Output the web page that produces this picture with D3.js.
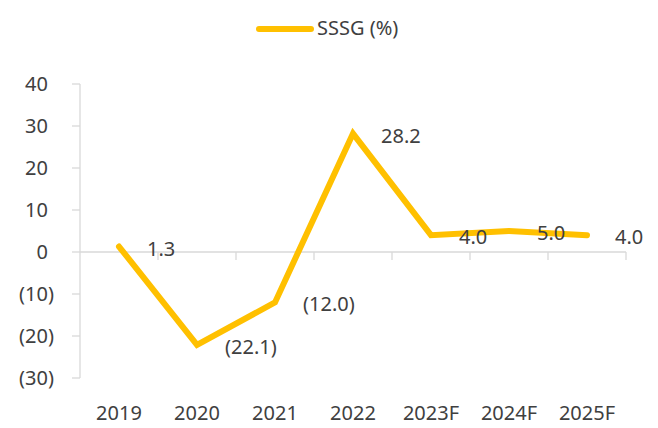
<!DOCTYPE html>
<html>
<head>
<meta charset="utf-8">
<script src="https://cdn.jsdelivr.net/npm/d3@7"></script>
<style>
  body { margin: 0; background: #fff; }
  text { font-family: "Noto Sans", sans-serif; fill: #404040; }
</style>
</head>
<body>
<svg id="chart" width="658" height="428"></svg>
<script>
// data
var years = ["2019", "2020", "2021", "2022", "2023F", "2024F", "2025F"];
var sssg = [1.3, -22.1, -12.0, 28.2, 4.0, 5.0, 4.0];
var yTicks = [-30, -20, -10, 0, 10, 20, 30, 40];
var seriesName = "SSSG (%)";

var svg = d3.select("#chart");
var lineColor = "#ffc000";
var axisColor = "#d9d9d9";
var fontSize = 20;

var x = d3.scaleBand().domain(years).range([80, 626]);
var y = d3.scaleLinear().domain([-30, 40]).range([378, 84]);

// accounting style numbers: negatives in brackets
function fmt(v, digits) {
	var s = Math.abs(v).toFixed(digits);
	return v < 0 ? "(" + s + ")" : s;
}

// y axis
var yAxis = svg.append("g");
yAxis.append("line")
	.attr("x1", 80).attr("x2", 80)
	.attr("y1", y(40)).attr("y2", y(-30))
	.attr("stroke", axisColor).attr("stroke-width", 1.3);
yAxis.selectAll(".ytick").data(yTicks).enter().append("line")
	.attr("x1", 72).attr("x2", 80)
	.attr("y1", function(d) { return y(d); })
	.attr("y2", function(d) { return y(d); })
	.attr("stroke", axisColor).attr("stroke-width", 1.3);
yAxis.selectAll(".ylab").data(yTicks).enter().append("text")
	.attr("x", function(d) { return d < 0 ? 54 : 48; })
	.attr("y", function(d) { return y(d); })
	.attr("dy", "0.35em")
	.attr("text-anchor", "end")
	.style("font-size", fontSize + "px")
	.text(function(d) { return fmt(d, 0); });

// x axis on the zero line, ticks at category edges
var xAxis = svg.append("g");
xAxis.append("line")
	.attr("x1", 80).attr("x2", 626)
	.attr("y1", y(0)).attr("y2", y(0))
	.attr("stroke", axisColor).attr("stroke-width", 1.3);
var edges = years.map(function(d) { return x(d) + x.bandwidth(); });
xAxis.selectAll(".xtick").data(edges).enter().append("line")
	.attr("x1", function(d) { return d; })
	.attr("x2", function(d) { return d; })
	.attr("y1", y(0)).attr("y2", y(0) + 8)
	.attr("stroke", axisColor).attr("stroke-width", 1.3);
svg.selectAll(".xlab").data(years).enter().append("text")
	.attr("x", function(d) { return x(d) + x.bandwidth() / 2; })
	.attr("y", 420)
	.attr("text-anchor", "middle")
	.style("font-size", fontSize + "px")
	.text(function(d) { return d; });

// series line
var pts = years.map(function(d, i) { return { year: d, value: sssg[i] }; });
var line = d3.line()
	.x(function(d) { return x(d.year) + x.bandwidth() / 2; })
	.y(function(d) { return y(d.value); });

svg.append("path")
	.datum(pts)
	.attr("d", line)
	.attr("fill", "none")
	.attr("stroke", lineColor)
	.attr("stroke-width", 6)
	.attr("stroke-linejoin", "miter")
	.attr("stroke-linecap", "round");

// value labels to the right of each point
svg.selectAll(".vlab").data(pts).enter().append("text")
	.attr("x", function(d) { return x(d.year) + x.bandwidth() / 2 + 28; })
	.attr("y", function(d) { return y(d.value) + 2; })
	.attr("dy", "0.35em")
	.style("font-size", fontSize + "px")
	.text(function(d) { return fmt(d.value, 1); });

// legend
var legend = svg.append("g");
legend.append("line")
	.attr("x1", 259).attr("x2", 311)
	.attr("y1", 29).attr("y2", 29)
	.attr("stroke", lineColor).attr("stroke-width", 6)
	.attr("stroke-linecap", "round");
legend.append("text")
	.attr("x", 317).attr("y", 35)
	.style("font-size", fontSize + "px")
	.text(seriesName);
</script>
</body>
</html>
